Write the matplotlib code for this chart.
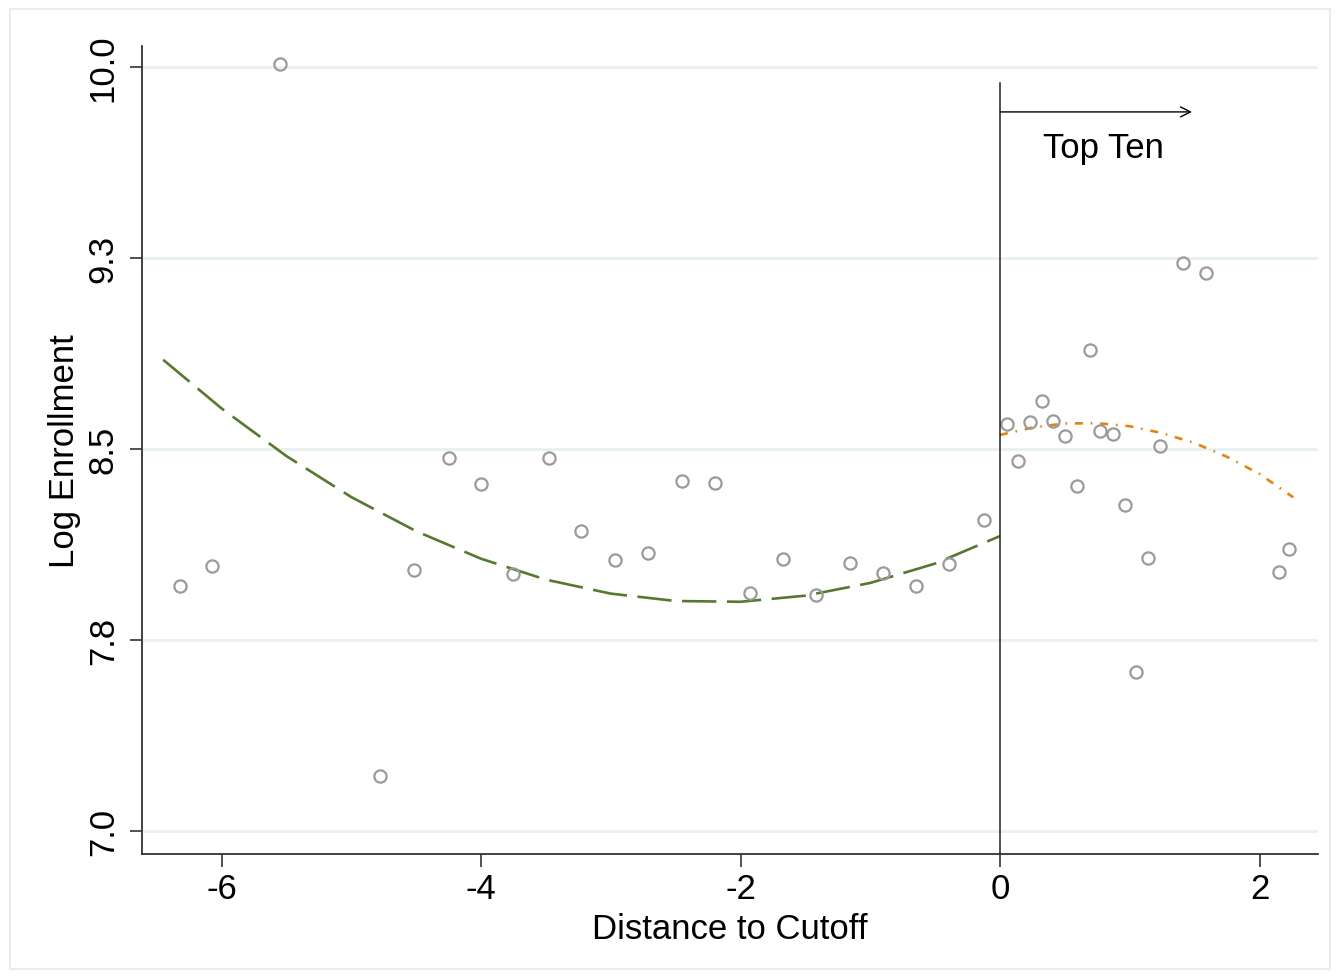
import matplotlib
matplotlib.use("Agg")
import matplotlib.pyplot as plt
from matplotlib.patches import Rectangle

# binned means (distance to cutoff, log enrollment)
bin_x = [-6.32, -6.07, -5.55, -4.78, -4.52, -4.25, -4.00, -3.75, -3.48, -3.23, -2.97,
         -2.71, -2.45, -2.20, -1.93, -1.67, -1.42, -1.16, -0.90, -0.65, -0.39, -0.12,
         0.05, 0.14, 0.23, 0.32, 0.41, 0.50, 0.59, 0.69, 0.77, 0.87, 0.96, 1.05,
         1.14, 1.23, 1.41, 1.59, 2.15, 2.23]
bin_y = [7.962, 8.041, 10.012, 7.216, 8.025, 8.465, 8.363, 8.009, 8.465, 8.178, 8.064,
         8.092, 8.375, 8.367, 7.935, 8.068, 7.927, 8.053, 8.013, 7.962, 8.049, 8.221,
         8.598, 8.452, 8.605, 8.690, 8.609, 8.550, 8.355, 8.890, 8.572, 8.559, 8.279, 7.625,
         8.073, 8.512, 9.229, 9.189, 8.015, 8.106]

# fitted curve below cutoff
fit_left_x = [-6.45, -6.0, -5.5, -5.0, -4.5, -4.0, -3.5, -3.0, -2.5, -2.0, -1.5, -1.0, -0.5, 0.0]
fit_left_y = [8.850, 8.659, 8.472, 8.311, 8.177, 8.069, 7.987, 7.932, 7.903, 7.900, 7.924,
              7.974, 8.050, 8.158]

# fitted curve above cutoff
fit_right_x = [0.0, 0.25, 0.5, 0.75, 1.0, 1.25, 1.5, 1.75, 2.0, 2.26]
fit_right_y = [8.555, 8.584, 8.600, 8.601, 8.589, 8.562, 8.523, 8.469, 8.402, 8.310]

yticks = [7.0, 7.75, 8.5, 9.25, 10.0]
ytick_labels = ["7.0", "7.8", "8.5", "9.3", "10.0"]
xticks = [-6, -4, -2, 0, 2]

plt.rcParams['font.family'] = ['Liberation Sans', 'DejaVu Sans']

fig = plt.figure(figsize=(13.4, 9.78), dpi=100)
fig.patches.append(Rectangle((10 / 1340, 8 / 978), 1320 / 1340, 960 / 978,
                             transform=fig.transFigure, fill=False,
                             edgecolor='#e6edf0', linewidth=1.5))
ax = fig.add_axes([0.106, 0.1258, 0.8776, 0.8262])

for y in yticks:
    ax.axhline(y, color='#e8f0f2', linewidth=2, zorder=0)

ax.plot(fit_left_x, fit_left_y, color='#55792d', linewidth=1.9,
        dashes=(13, 4), zorder=2)
ax.plot(fit_right_x, fit_right_y, color='#e8820c', linewidth=1.9,
        dashes=(3, 3, 0.6, 3), zorder=2)
ax.plot(bin_x, bin_y, linestyle='none', marker='o', markersize=8.8,
        markerfacecolor='none', markeredgecolor='#9a9a9a', markeredgewidth=1.6, zorder=3)

# cutoff line and label
ax.plot([0, 0], [6.91, 9.937], color='#222222', linewidth=1.1, zorder=4)
ax.annotate('', xy=(1.48, 9.823), xytext=(0, 9.823),
            arrowprops=dict(arrowstyle='->', color='black', lw=1.0,
                            shrinkA=0, shrinkB=0, mutation_scale=18))
ax.text(0.80, 9.682, 'Top Ten', fontsize=25, ha='center', va='center')

ax.set_xlim(-6.613, 2.451)
ax.set_ylim(6.91, 10.082)
ax.set_xticks(xticks)
ax.set_xticklabels([str(t) for t in xticks])
ax.set_yticks(yticks)
ax.set_yticklabels(ytick_labels, rotation=90, va='center')
ax.tick_params(axis='both', labelsize=25, length=9, width=1.2, color='#333333')
ax.tick_params(axis='y', pad=7)
ax.tick_params(axis='x', pad=4)

for s in ['top', 'right']:
    ax.spines[s].set_visible(False)
for s in ['left', 'bottom']:
    ax.spines[s].set_color('#333333')
    ax.spines[s].set_linewidth(1.3)

ax.set_xlabel('Distance to Cutoff', fontsize=25, labelpad=5)
ax.set_ylabel('Log Enrollment', fontsize=25, labelpad=4)

fig.savefig('out.png', dpi=100)
